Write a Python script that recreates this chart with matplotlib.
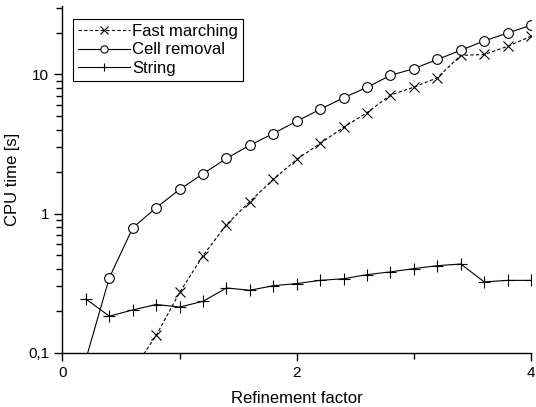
import numpy as np
import matplotlib.pyplot as plt
from matplotlib.ticker import FixedLocator, LogLocator, NullFormatter

plt.rcParams['font.family'] = ['Liberation Sans', 'DejaVu Sans']

# Refinement factor values
refinement = [0.2, 0.4, 0.6, 0.8, 1.0, 1.2, 1.4, 1.6, 1.8, 2.0,
              2.2, 2.4, 2.6, 2.8, 3.0, 3.2, 3.4, 3.6, 3.8, 4.0]

# CPU times [s]
fast_marching = [0.05, 0.06, 0.075, 0.133, 0.271, 0.499, 0.833, 1.22, 1.76, 2.45,
                 3.19, 4.17, 5.31, 7.1, 8.1, 9.46, 13.7, 13.9, 15.9, 18.8]
cell_removal = [0.09, 0.346, 0.79, 1.10, 1.49, 1.93, 2.49, 3.10, 3.76, 4.61,
                5.61, 6.80, 8.07, 9.84, 11.0, 12.8, 14.9, 17.4, 19.8, 22.6]
string = [0.243, 0.183, 0.203, 0.222, 0.213, 0.234, 0.292, 0.281, 0.303, 0.314,
          0.331, 0.340, 0.364, 0.381, 0.402, 0.422, 0.434, 0.323, 0.331, 0.331]

fig = plt.figure(figsize=(5.36, 4.07), dpi=100)
ax = fig.add_axes([0.1166, 0.1334, 0.8741, 0.8518])

ax.plot(refinement, fast_marching, color='black', lw=0.8, ls=(0, (3, 2)),
        marker='x', ms=7, mew=0.8, label='Fast marching')
ax.plot(refinement, cell_removal, color='black', lw=0.8,
        marker='o', ms=7, mew=0.8, mfc='white', label='Cell removal')
ax.plot(refinement, string, color='black', lw=0.8,
        marker='+', ms=8, mew=0.8, label='String')

ax.set_yscale('log')
ax.set_xlim(0, 4)
ax.set_ylim(0.1, 31)

ax.xaxis.set_major_locator(FixedLocator([0, 2, 4]))
ax.xaxis.set_minor_locator(FixedLocator([1, 3]))
ax.set_xticklabels(['0', '2', '4'])
ax.yaxis.set_major_locator(FixedLocator([0.1, 1, 10]))
ax.yaxis.set_minor_locator(LogLocator(base=10, subs=np.arange(2, 10)))
ax.yaxis.set_minor_formatter(NullFormatter())
ax.set_yticklabels(['0,1', '1', '10'])

ax.spines['top'].set_visible(False)
ax.spines['right'].set_visible(False)
for s in ['left', 'bottom']:
    ax.spines[s].set_linewidth(1.0)

ax.tick_params(which='major', direction='out', length=6, width=1, labelsize=11)
ax.tick_params(which='minor', direction='out', length=4, width=1)

ax.set_xlabel('Refinement factor', fontsize=12, labelpad=8)
ax.set_ylabel('CPU time [s]', fontsize=12, labelpad=6)

leg = ax.legend(loc='upper left', bbox_to_anchor=(0.0224, 0.9625), fontsize=12,
                handlelength=3.1, handletextpad=0.15, labelspacing=0.2,
                borderpad=0.3, borderaxespad=0, markerscale=0.75,
                fancybox=False, framealpha=1, edgecolor='black')
leg.get_frame().set_linewidth(0.8)

fig.savefig('out.png', dpi=100)
